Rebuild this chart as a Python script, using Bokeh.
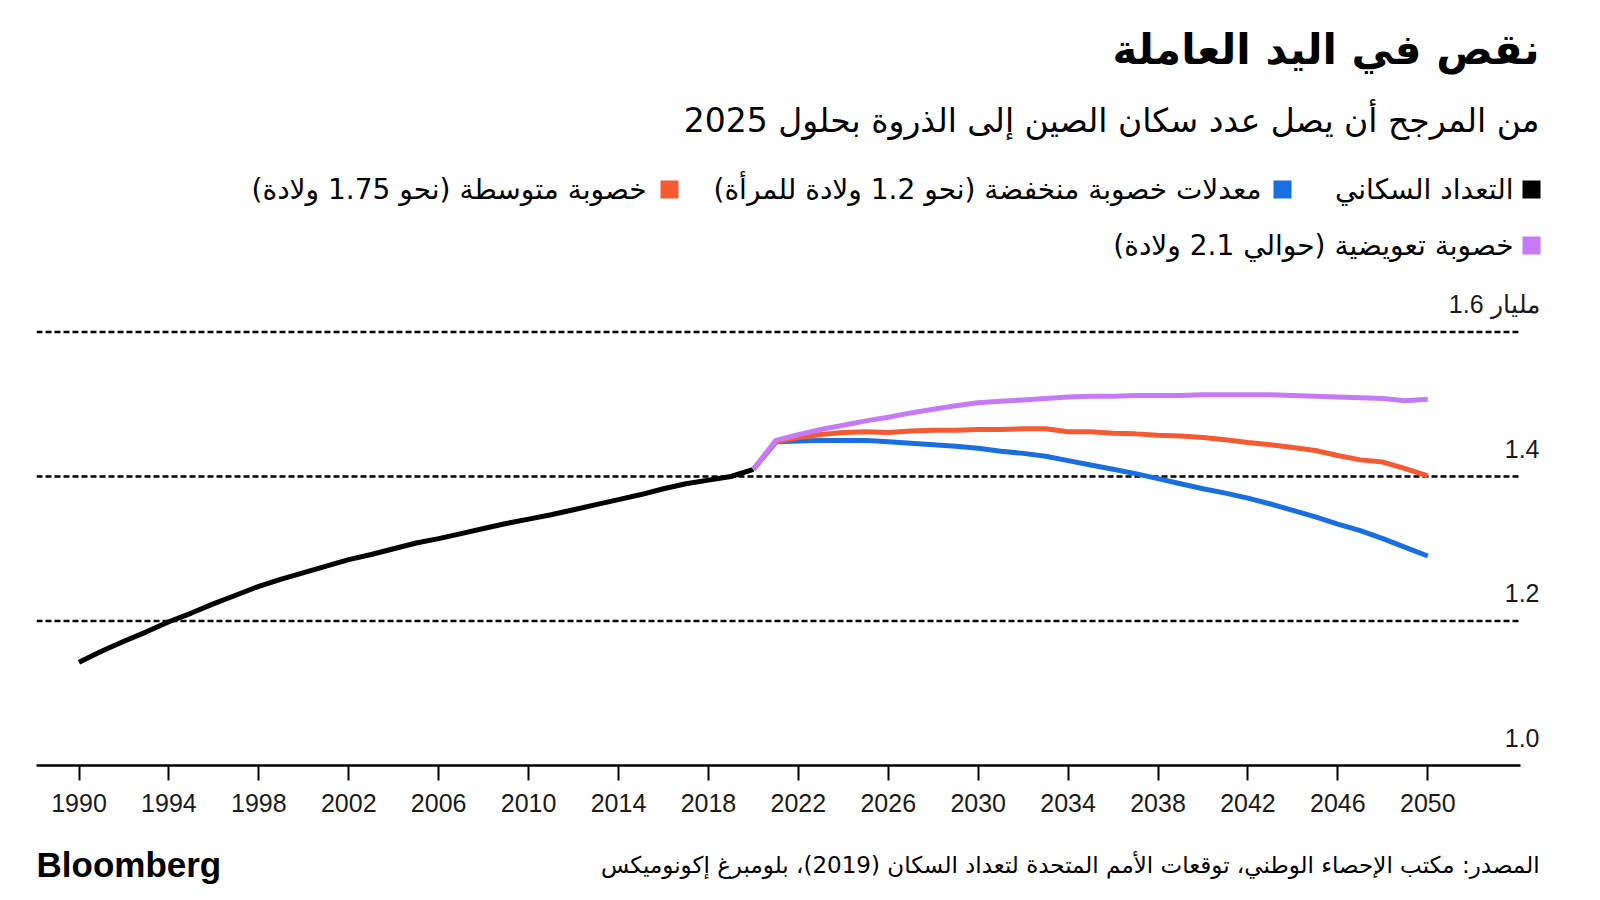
from bokeh.plotting import figure
from bokeh.models import Range1d, FixedTicker, Label
from bokeh.layouts import column
from bokeh.core.properties import value
from bokeh.embed import file_html
from bokeh.resources import INLINE

# ---------------- data ----------------
hist_years = list(range(1990, 2021))
hist_pop = [1.143, 1.158, 1.172, 1.185, 1.199, 1.211, 1.224, 1.236, 1.248, 1.258,
            1.267, 1.276, 1.285, 1.292, 1.300, 1.308, 1.314, 1.321, 1.328, 1.335,
            1.341, 1.347, 1.354, 1.361, 1.368, 1.375, 1.383, 1.390, 1.395, 1.400,
            1.410]

proj_years = list(range(2020, 2051))
low_fert = [1.410, 1.448, 1.449, 1.450, 1.450, 1.450, 1.448, 1.446, 1.444, 1.442,
            1.439, 1.435, 1.432, 1.428, 1.422, 1.416, 1.410, 1.404, 1.397, 1.390,
            1.383, 1.377, 1.370, 1.362, 1.353, 1.344, 1.334, 1.325, 1.314, 1.302,
            1.290]
med_fert = [1.410, 1.448, 1.454, 1.458, 1.461, 1.462, 1.461, 1.463, 1.464, 1.464,
            1.465, 1.465, 1.466, 1.466, 1.462, 1.462, 1.460, 1.459, 1.457, 1.456,
            1.454, 1.451, 1.447, 1.444, 1.440, 1.436, 1.429, 1.423, 1.420, 1.411,
            1.401]
repl_fert = [1.410, 1.450, 1.458, 1.465, 1.471, 1.477, 1.482, 1.488, 1.493, 1.498,
             1.502, 1.504, 1.506, 1.508, 1.510, 1.511, 1.511, 1.512, 1.512, 1.512,
             1.513, 1.513, 1.513, 1.513, 1.512, 1.511, 1.510, 1.509, 1.508, 1.505,
             1.507]

x_ticks = list(range(1990, 2051, 4))
grid_values = [1.2, 1.4, 1.6]
y_label_values = [1.0, 1.2, 1.4, 1.6]
y_label_texts = ["1.0", "1.2", "1.4", "1.6 مليار"]

RLM = "\u200f"
title = "نقص في اليد العاملة"
subtitle = "من المرجح أن يصل عدد سكان الصين إلى الذروة بحلول 2025"
legend_labels = ["التعداد السكاني",
                 "معدلات خصوبة منخفضة (نحو 1.2 ولادة للمرأة)",
                 "خصوبة متوسطة (نحو 1.75 ولادة)",
                 "خصوبة تعويضية (حوالي 2.1 ولادة)"]
source = "المصدر: مكتب الإحصاء الوطني، توقعات الأمم المتحدة لتعداد السكان (2019)، بلومبرغ إكونوميكس"
brand = "Bloomberg"

BLACK = "#000000"
BLUE = "#1a6fe0"
ORANGE = "#f65a32"
PURPLE = "#c57bf5"
legend_colors = [BLACK, BLUE, ORANGE, PURPLE]

W = 1584
ARABIC = "DejaVu Sans"
LATIN = "Liberation Sans"

# frame edges (px) shared by all stacked figures
FL, FG, FR = 36, 1520, 1550
FT, FB, BOT = 285, 765, 830

# ---------------- header (title, subtitle, legend) ----------------
HEAD_H = FT
head = figure(width=W, height=HEAD_H, output_backend="svg", toolbar_location=None,
              x_range=Range1d(FL, FR), y_range=Range1d(HEAD_H, 0),
              x_axis_type=None, y_axis_type=None,
              min_border_left=FL, min_border_right=W - FR,
              min_border_top=0, min_border_bottom=0)
head.outline_line_color = None
head.grid.visible = False

head.text(x=[1539], y=[49], text=[RLM + title + RLM], text_align="right",
          text_baseline="middle", text_font=value(ARABIC), text_font_style="bold",
          text_font_size="42px", text_color="black")
head.text(x=[1539], y=[120], text=[RLM + subtitle + RLM], text_align="right",
          text_baseline="middle", text_font=value(ARABIC),
          text_font_size="33px", text_color="black")

leg_text_x = [1513, 1261, 646, 1513]
leg_sq_x = [1531, 1282, 669, 1531]
leg_y = [189, 189, 189, 245]
head.rect(x=leg_sq_x, y=leg_y, width=18, height=18, width_units="screen",
          height_units="screen", fill_color=legend_colors, line_color=None)
head.text(x=leg_text_x, y=leg_y, text=[RLM + t + RLM for t in legend_labels],
          text_align="right", text_baseline="middle", text_font=value(ARABIC),
          text_font_size="28px", text_color="black")

# ---------------- chart ----------------
PX_YEAR = 22.48
X_1990 = 78.5
PX_UNIT = 722.5
X0 = 1990 - (X_1990 - FL) / PX_YEAR
XG = 1990 + (FG - X_1990) / PX_YEAR
X1 = 1990 + (FR - X_1990) / PX_YEAR
Y0 = 1.0
Y1 = 1.0 + (FB - FT) / PX_UNIT

p = figure(width=W, height=BOT - FT, output_backend="svg", toolbar_location=None,
           x_range=Range1d(X0, X1), y_range=Range1d(Y0, Y1),
           min_border_left=FL, min_border_right=W - FR,
           min_border_top=0, min_border_bottom=BOT - FB)
p.outline_line_color = None
p.yaxis.visible = False
p.grid.visible = False

xa = p.xaxis[0]
xa.ticker = FixedTicker(ticks=x_ticks)
xa.bounds = (X0, XG)
xa.axis_line_width = 2.5
xa.axis_line_color = "black"
xa.major_tick_in = 0
xa.major_tick_out = 15
xa.major_tick_line_width = 2
xa.major_tick_line_color = "black"
xa.minor_tick_line_color = None
xa.major_label_text_font = LATIN
xa.major_label_text_font_size = "25px"
xa.major_label_text_color = "#1a1a1a"
xa.major_label_standoff = 13

p.segment(x0=[X0] * len(grid_values), y0=grid_values,
          x1=[XG] * len(grid_values), y1=grid_values,
          line_color="black", line_width=2.6, line_dash="6 3")

p.line(hist_years, hist_pop, line_color=BLACK, line_width=5)
p.line(proj_years, low_fert, line_color=BLUE, line_width=5)
p.line(proj_years, med_fert, line_color=ORANGE, line_width=5)
p.line(proj_years, repl_fert, line_color=PURPLE, line_width=5)

for v, t in zip(y_label_values, y_label_texts):
    p.add_layout(Label(x=X1, y=v, x_offset=1539 - FR, y_offset=28, text=t,
                       text_align="right", text_baseline="middle",
                       text_font=LATIN, text_font_size="25px",
                       text_color="#1a1a1a"))

# ---------------- footer ----------------
FOOT_TOP = BOT
FOOT_H = 884 - FOOT_TOP
foot = figure(width=W, height=FOOT_H, output_backend="svg", toolbar_location=None,
              x_range=Range1d(FL, FR), y_range=Range1d(FOOT_TOP + FOOT_H, FOOT_TOP),
              x_axis_type=None, y_axis_type=None,
              min_border_left=FL, min_border_right=W - FR,
              min_border_top=0, min_border_bottom=0)
foot.outline_line_color = None
foot.grid.visible = False
foot.text(x=[1539], y=[864], text=[RLM + source + RLM], text_align="right",
          text_baseline="middle", text_font=value(ARABIC),
          text_font_size="23px", text_color="black")
foot.text(x=[FL], y=[864], text=[brand], text_align="left",
          text_baseline="middle", text_font=value(LATIN), text_font_style="bold",
          text_font_size="35px", text_color="black")

layout = column(head, p, foot, spacing=0)
open("out.html", "w").write(file_html(layout, INLINE))
